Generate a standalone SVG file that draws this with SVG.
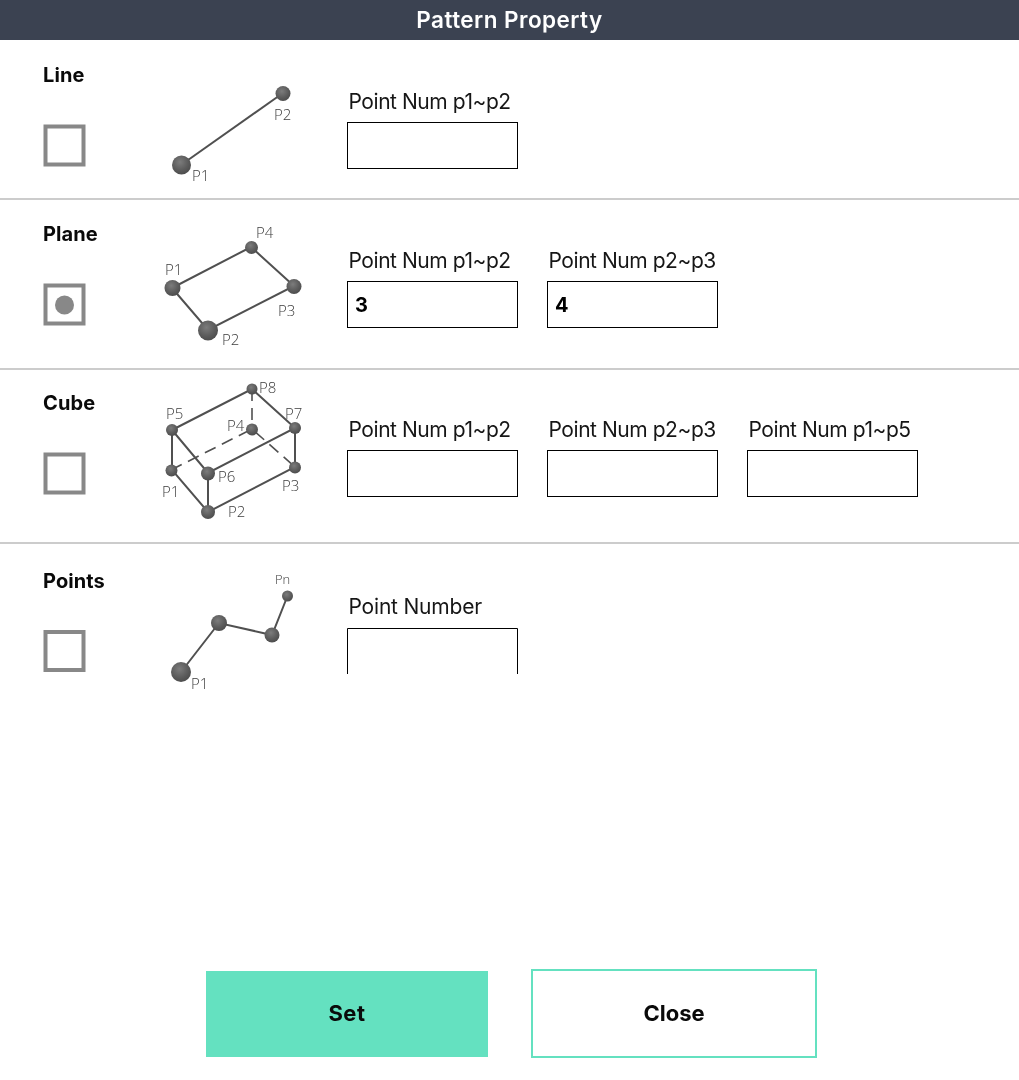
<svg xmlns="http://www.w3.org/2000/svg" width="1019" height="1080" viewBox="0 0 1019 1080">
<defs>
<radialGradient id="ball" cx="0.42" cy="0.35" r="0.7"><stop offset="0" stop-color="#7c7c7c"/><stop offset="0.6" stop-color="#5c5c5c"/><stop offset="1" stop-color="#4a4a4a"/></radialGradient>
<filter id="gray" x="-20%" y="-30%" width="140%" height="160%" color-interpolation-filters="sRGB"><feOffset dx="0" dy="0"/></filter>
</defs>
<style>
text{font-family:"Inter","Liberation Sans",sans-serif;filter:url(#gray)}
.title{font-size:22.500px;font-weight:600;fill:#fff;text-anchor:middle;letter-spacing:.45px}
.head{font-size:20px;font-weight:700;fill:#0a0a0a;letter-spacing:.1px}
.lab{font-size:21px;font-weight:400;fill:#161616;letter-spacing:-.45px}
.val{font-size:20px;font-weight:700;fill:#000}
.pt{font-family:"Open Sans","Noto Sans",sans-serif;font-size:15px;font-weight:300;fill:#3c3c3c}
.btn{font-size:22px;font-weight:700;fill:#0a0a0a;text-anchor:middle}
.cb{fill:#fff;stroke:#888;stroke-width:4}
.in{fill:#fff;stroke:#000;stroke-width:1}
.div{stroke:#ccc;stroke-width:2}
.wire{stroke:#505050;stroke-width:2;fill:none}
.dash{stroke-dasharray:12 7;stroke-width:1.6}
.b{fill:url(#ball)}
</style>
<rect width="1019" height="1080" fill="#fff"/>
<g id="header"><rect width="1019" height="40" fill="#3b4251"/><text class="title" x="509.500" y="28">Pattern Property</text></g>
<line class="div" x1="0" y1="199" x2="1019" y2="199"/>
<line class="div" x1="0" y1="369" x2="1019" y2="369"/>
<line class="div" x1="0" y1="543" x2="1019" y2="543"/>
<g id="connectors">
<path class="wire" d="M181 165L283 93"/>
<path class="wire" d="M172 288L251 247L294 286L208 330Z"/>
<path class="wire" d="M172 430L252 389L295 428L208 473ZM172 430V470L208 512L295 467V428M208 473V512"/>
<path class="wire dash" d="M171 470L252 429L295 467M252 389V429"/>
<path class="wire" d="M181 672L219 623L272 635L287.500 596"/>
</g>
<g id="line-section">
<text class="head" x="43" y="82">Line</text>
<rect class="cb" x="45.500" y="126.500" width="38" height="38"/>
<circle class="b" cx="181.500" cy="165" r="9.500"/><circle class="b" cx="283" cy="93.500" r="7.500"/>
<text class="pt" x="192" y="181">P1</text><text class="pt" x="274" y="120">P2</text>
<text class="lab" x="348.500" y="109">Point Num p1~p2</text>
<rect class="in" x="347.500" y="122.500" width="170" height="46"/>
</g>
<g id="plane-section">
<text class="head" x="43" y="241">Plane</text>
<rect class="cb" x="45.500" y="285.500" width="38" height="38"/>
<circle cx="64.500" cy="305" r="9.500" fill="#888"/>
<circle class="b" cx="172.500" cy="288" r="8"/><circle class="b" cx="208" cy="330.500" r="10"/><circle class="b" cx="294" cy="286.500" r="7.500"/><circle class="b" cx="251.500" cy="247.500" r="6.500"/>
<text class="pt" x="165" y="275">P1</text><text class="pt" x="222" y="345">P2</text><text class="pt" x="278" y="316">P3</text><text class="pt" x="256" y="238">P4</text>
<text class="lab" x="348.500" y="268">Point Num p1~p2</text>
<rect class="in" x="347.500" y="281.500" width="170" height="46"/>
<text class="val" x="355" y="312">3</text>
<text class="lab" x="548.500" y="268">Point Num p2~p3</text>
<rect class="in" x="547.500" y="281.500" width="170" height="46"/>
<text class="val" x="555" y="312">4</text>
</g>
<g id="cube-section">
<text class="head" x="43" y="410">Cube</text>
<rect class="cb" x="45.500" y="454.500" width="38" height="38"/>
<circle class="b" cx="172" cy="430" r="6"/><circle class="b" cx="252" cy="389" r="5.500"/><circle class="b" cx="295" cy="428" r="6"/><circle class="b" cx="252" cy="429.500" r="6"/><circle class="b" cx="171.500" cy="470.500" r="6"/><circle class="b" cx="208" cy="473.500" r="7"/><circle class="b" cx="295" cy="467.500" r="6"/><circle class="b" cx="208" cy="512" r="7"/>
<text class="pt" x="166" y="419">P5</text><text class="pt" x="259" y="393">P8</text><text class="pt" x="285" y="419">P7</text><text class="pt" x="227" y="431">P4</text><text class="pt" x="218" y="482">P6</text><text class="pt" x="162" y="497">P1</text><text class="pt" x="282" y="491">P3</text><text class="pt" x="228" y="517">P2</text>
<text class="lab" x="348.500" y="437">Point Num p1~p2</text>
<rect class="in" x="347.500" y="450.500" width="170" height="46"/>
<text class="lab" x="548.500" y="437">Point Num p2~p3</text>
<rect class="in" x="547.500" y="450.500" width="170" height="46"/>
<text class="lab" x="748.500" y="437">Point Num p1~p5</text>
<rect class="in" x="747.500" y="450.500" width="170" height="46"/>
</g>
<g id="points-section">
<text class="head" x="43" y="588">Points</text>
<rect class="cb" x="45.500" y="632" width="38" height="38"/>
<circle class="b" cx="181" cy="672" r="10"/><circle class="b" cx="219" cy="623" r="8"/><circle class="b" cx="272" cy="635" r="7.500"/><circle class="b" cx="287.500" cy="596" r="5.500"/>
<text class="pt" x="191" y="689">P1</text><text class="pt" x="275" y="584" style="font-size:13px">Pn</text>
<text class="lab" x="348.500" y="614" style="letter-spacing:-.2px">Point Number</text>
<path class="in" style="fill:none" d="M347.500 674V628.500H517.500V674"/>
</g>
<g id="set-button"><rect x="206" y="971" width="282" height="86" fill="#64e1c0"/><text class="btn" x="347" y="1021" style="letter-spacing:.5px">Set</text></g>
<g id="close-button"><rect x="532" y="970" width="284" height="87" fill="#fff" stroke="#64e1c0" stroke-width="2"/><text class="btn" x="674" y="1021">Close</text></g>
</svg>
